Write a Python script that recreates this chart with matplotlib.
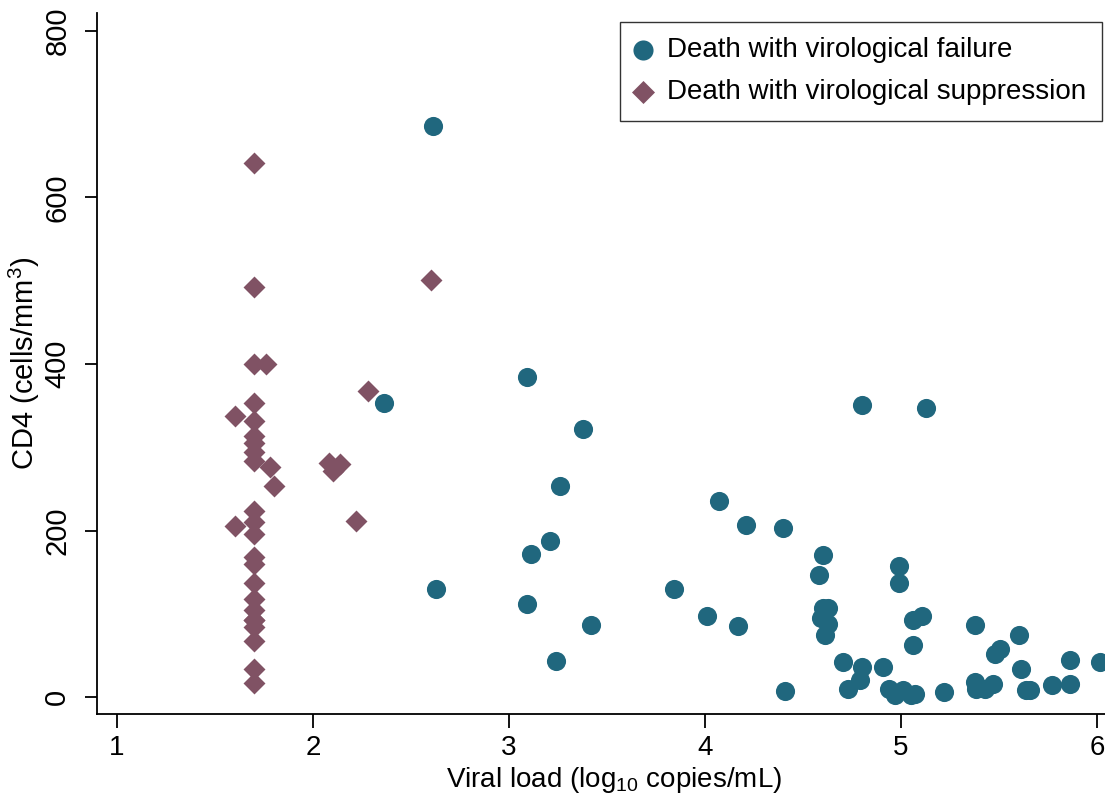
import matplotlib
matplotlib.use("Agg")
import matplotlib.pyplot as plt
from matplotlib import font_manager

# ---- data ----
fail_x = [2.36, 2.61, 2.63, 3.09, 3.09, 3.11, 3.21, 3.24, 3.26, 3.38, 3.42, 3.84,
          4.01, 4.07, 4.17, 4.21, 4.40, 4.41, 4.58, 4.60, 4.60, 4.63, 4.59, 4.63,
          4.61, 4.705, 4.73, 4.79, 4.80, 4.80, 4.91, 4.94, 4.97, 4.99, 4.99, 5.01,
          5.05, 5.07, 5.06, 5.105, 5.06, 5.13, 5.22, 5.38, 5.38, 5.385, 5.43, 5.47,
          5.48, 5.505, 5.60, 5.61, 5.64, 5.66, 5.77, 5.86, 5.86, 6.015]
fail_y = [353, 686, 130, 384, 112, 172, 187, 43, 253, 322, 86, 130,
          97, 235, 85, 207, 203, 7, 147, 170, 107, 107, 95, 88,
          74, 42, 10, 21, 36, 351, 36, 10, 3, 157, 137, 8,
          3, 4, 93, 97, 63, 347, 6, 86, 18, 10, 10, 16,
          52, 58, 74, 34, 8, 9, 14, 45, 16, 42]

supp_x = [1.70] * 23 + [1.76, 1.78, 1.80, 1.60, 1.60, 2.08, 2.10, 2.14, 2.22, 2.28, 2.60]
supp_y = [67, 34, 17, 92, 642, 493, 400, 353, 331, 313, 305, 294, 284, 223, 210, 196,
          168, 160, 137, 118, 105, 92, 84] + [400, 276, 254, 338, 205, 281, 272, 280,
                                              211, 367, 501]

x_ticks = [1, 2, 3, 4, 5, 6]
y_ticks = [0, 200, 400, 600, 800]

labels = ["Death with virological failure", "Death with virological suppression"]
x_label = "Viral load (log$_{10}$ copies/mL)"
y_label = "CD4 (cells/mm$^{3}$)"

# ---- style ----
names = {f.name for f in font_manager.fontManager.ttflist}
fam = "Liberation Sans Narrow" if "Liberation Sans Narrow" in names else "Liberation Sans"
plt.rcParams["font.family"] = [fam, "DejaVu Sans"]
plt.rcParams["mathtext.fontset"] = "custom"
plt.rcParams["mathtext.rm"] = fam
plt.rcParams["mathtext.it"] = fam

c_fail = "#20677e"
c_supp = "#805264"

fig = plt.figure(figsize=(11.05, 7.94), dpi=100)
ax = fig.add_axes([97 / 1105, 80 / 794, 1033 / 1105, 701 / 794])

ax.scatter(fail_x, fail_y, s=190, marker="o", color=c_fail, linewidths=0,
           label=labels[0], zorder=3)
ax.scatter(supp_x, supp_y, s=125, marker="D", color=c_supp, linewidths=0,
           label=labels[1], zorder=3)

ax.set_xlim(0.898, 1 + (1130 - 117) / 196)
ax.set_ylim(-20.4, 821.6)

ax.spines["top"].set_visible(False)
ax.spines["right"].set_visible(False)
for sp in ("left", "bottom"):
    ax.spines[sp].set_linewidth(1.3)

ax.set_xticks(x_ticks)
ax.set_yticks(y_ticks)
ax.tick_params(axis="x", length=10, width=1.3, labelsize=20, pad=5)
ax.tick_params(axis="y", length=8.5, width=1.3, labelsize=21, pad=10)
for t in ax.get_yticklabels():
    t.set_rotation(90)
    t.set_va("center")

ax.set_xlabel(x_label, fontsize=20)
ax.set_ylabel(y_label, fontsize=21)
ax.xaxis.set_label_coords(0.5005, -0.073)
ax.yaxis.set_label_coords(-0.053, 0.5)

leg = fig.legend(loc="upper left", bbox_to_anchor=(620 / 1105, 1 - 22 / 794),
                 fontsize=20, frameon=True, fancybox=False, edgecolor="black",
                 borderpad=0.55, handletextpad=0.6, labelspacing=0.58,
                 handlelength=0.55, borderaxespad=0, markerscale=1.05)
leg.get_frame().set_linewidth(1.0)

fig.savefig("out.png", dpi=100)
